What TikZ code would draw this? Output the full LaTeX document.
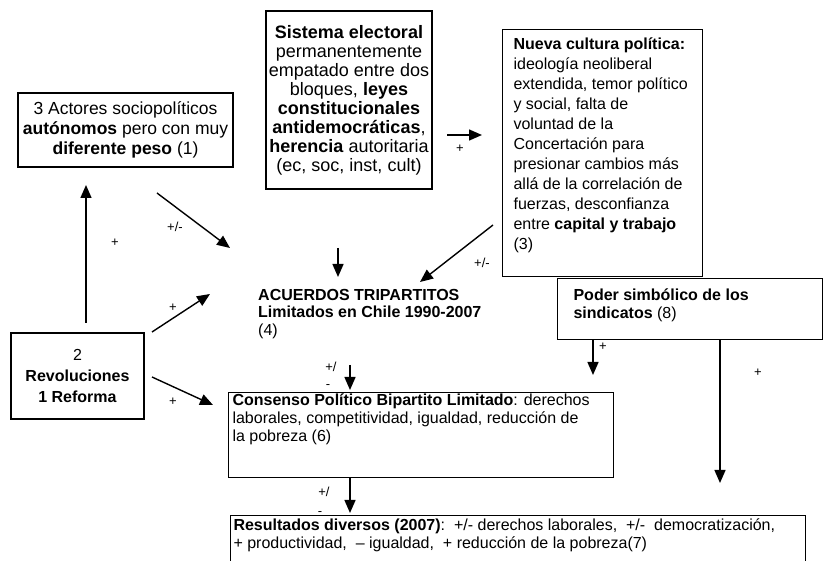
\documentclass[tikz,border=0pt]{standalone}
\usepackage{fontspec}
\setmainfont{Liberation Sans}
\usepackage{tikz}
\usetikzlibrary{arrows.meta}
\usetikzlibrary{positioning}

\begin{document}
\begin{tikzpicture}[x=1pt,y=-1pt,
    box/.style={draw, line width=1.1pt, inner sep=0pt},
    arr/.style={line width=1.4pt, -{Triangle[length=13pt,width=11pt]}},
    sgn/.style={font=\fontsize{13}{14}\selectfont, inner sep=0pt}]
    \useasboundingbox (0,0) rectangle (823,561);
    \clip (0,0) rectangle (823,561);

    \node[box, align=center, minimum width=215pt, minimum height=74pt,
        font=\fontsize{17.5}{20}\selectfont] (act) at (125.5,130)
        {3 Actores sociopolíticos\\\textbf{autónomos} pero con muy\\\textbf{diferente peso} (1)};
    \node[box, align=center, minimum width=166pt, minimum height=178pt,
        font=\fontsize{18}{19}\selectfont] (sis) at (349,100)
        {\textbf{Sistema electoral}\\permanentemente\\empatado entre dos\\bloques, \textbf{leyes}\\
        \textbf{constitucionales}\\\textbf{antidemocráticas},\\\textbf{herencia} autoritaria\\(ec, soc, inst, cult)};
    \node[box, anchor=north west, inner xsep=11pt, inner ysep=8pt,
        font=\fontsize{16}{20}\selectfont] (nue) at (502,29)
        {\parbox[t][231pt][t]{178pt}{\raggedright\textbf{Nueva cultura política:}\\ideología neoliberal\\
        extendida, temor político\\y social, falta de\\voluntad de la\\Concertación para\\presionar cambios más\\
        allá de la correlación de\\fuerzas, desconfianza\\entre \textbf{capital y trabajo}\\(3)}};
    \node[box, anchor=north west, inner xsep=16pt, inner ysep=10pt,
        font=\fontsize{16}{18.3}\selectfont] (pod) at (557,278)
        {\parbox[t][41pt][t]{233pt}{\raggedright\textbf{Poder simbólico de los}\\\textbf{sindicatos} (8)}};
    \node[box, align=center, minimum width=133pt, minimum height=86pt,
        font=\fontsize{16}{21}\selectfont] (rev) at (77.5,376)
        {2\\\textbf{Revoluciones}\\\textbf{1 Reforma}};
    \node[anchor=west, align=left, inner sep=0pt,
        font=\fontsize{16}{17.5}\selectfont] (acu) at (258,314)
        {\textbf{ACUERDOS TRIPARTITOS}\\\textbf{Limitados en Chile 1990-2007}\\(4)};
    \node[box, anchor=north west, inner xsep=4pt, inner ysep=1pt,
        font=\fontsize{16}{18.3}\selectfont] (con) at (228,392)
        {\parbox[t][83pt][t]{377pt}{\raggedright\textbf{Consenso Político Bipartito Limitado}: derechos\\
        laborales, competitividad, igualdad, reducción de\\la pobreza (6)}};
    \node[box, anchor=north west, inner xsep=3pt, inner ysep=3pt,
        font=\fontsize{16}{18.3}\selectfont] (res) at (230,515)
        {\parbox[t][60pt][t]{569pt}{\raggedright\textbf{Resultados diversos (2007)}:~~+/- derechos laborales,~~+/-~~democratización,\\
        + productividad,~~-- igualdad,~~+ reducción de la pobreza(7)}};

    \coordinate (s1) at (86,323);  \coordinate (e1) at (86,185);
    \coordinate (s2) at (157,193); \coordinate (e2) at (230,248);
    \coordinate (s3) at (338,248); \coordinate (e3) at (338,277);
    \coordinate (s4) at (447,135); \coordinate (e4) at (482,135);
    \coordinate (s5) at (493,225); \coordinate (e5) at (420,282);
    \coordinate (s6) at (152,332); \coordinate (e6) at (210,294);
    \coordinate (s7) at (152,377); \coordinate (e7) at (213,405);
    \coordinate (s8) at (350,365); \coordinate (e8) at (350,390);
    \coordinate (e9) at (350,513);
    \coordinate (e10) at (593,375);
    \coordinate (e11) at (720,483);

    \draw[arr] (s1) -- (e1);
    \draw[arr] (s2) -- (e2);
    \draw[arr] (s3) -- (e3);
    \draw[arr] (s4) -- (e4);
    \draw[arr] (s5) -- (e5);
    \draw[arr] (s6) -- (e6);
    \draw[arr] (s7) -- (e7);
    \draw[arr] (s8) -- (e8);
    \draw[arr] (con.south -| e9) -- (e9);
    \draw[arr] (pod.south -| e10) -- (e10);
    \draw[arr] (pod.south -| e11) -- (e11);

    \node[sgn] (l1) at (115,243) {+};
    \node[sgn] (l2) at (175,227) {+/-};
    \node[sgn] (l4) at (460,149) {+};
    \node[sgn] (l5) at (482,263) {+/-};
    \node[sgn] (l6) at (173,308) {+};
    \node[sgn] (l7) at (173,402) {+};
    \node[sgn] (l8a) at (331,367) {+/};
    \node[sgn] (l8b) at (328,387) {-};
    \node[sgn] (l9a) at (324,492) {+/};
    \node[sgn] (l9b) at (320,514) {-};
    \node[sgn] (l10) at (603,347) {+};
    \node[sgn] (l11) at (758,373) {+};
\end{tikzpicture}
\end{document}
